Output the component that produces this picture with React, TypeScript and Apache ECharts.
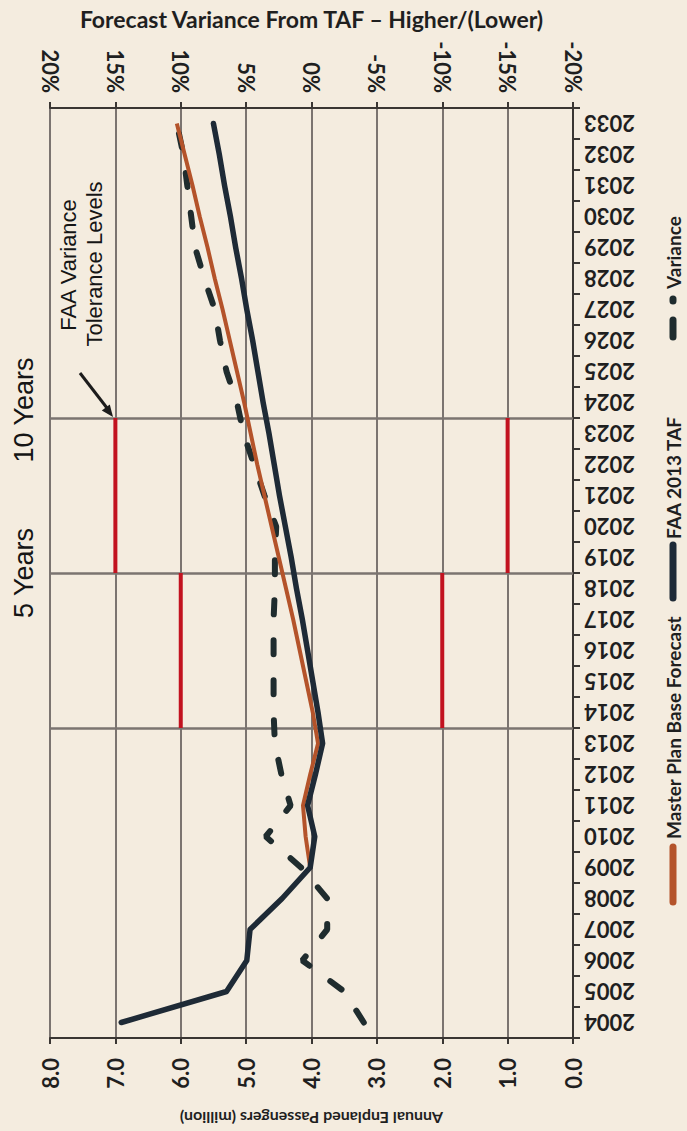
import React, { useEffect, useRef } from "react";
import * as echarts from "echarts";

const years = [
  "2004", "2005", "2006", "2007", "2008", "2009", "2010", "2011", "2012", "2013",
  "2014", "2015", "2016", "2017", "2018", "2019", "2020", "2021", "2022", "2023",
  "2024", "2025", "2026", "2027", "2028", "2029", "2030", "2031", "2032", "2033",
];

// FAA 2013 TAF (million enplaned passengers)
const tafValues = [
  6.91, 5.30, 4.99, 4.94, 4.45, 4.02, 3.95, 4.06, 3.94, 3.83,
  3.90, 3.98, 4.06, 4.14, 4.23, 4.31, 4.40, 4.49, 4.57, 4.65,
  4.74, 4.82, 4.90, 4.99, 5.07, 5.16, 5.24, 5.33, 5.41, 5.50,
];

// Master Plan Base Forecast (starts 2009)
const masterPlanValues = [
  null, null, null, null, null, 4.02, 4.09, 4.13, 4.02, 3.90,
  3.98, 4.08, 4.18, 4.28, 4.39, 4.50, 4.61, 4.72, 4.83, 4.93,
  5.03, 5.14, 5.25, 5.36, 5.48, 5.59, 5.71, 5.82, 5.94, 6.06,
];

// Forecast variance from TAF (%)
const varianceValues = [
  -4.0, -2.5, 0.7, -1.2, -1.2, 0.8, 3.5, 1.6, 2.3, 2.8,
  2.9, 2.9, 2.9, 2.9, 2.8, 2.8, 2.7, 3.6, 4.4, 5.2,
  5.7, 6.5, 7.0, 7.4, 8.2, 8.9, 9.2, 9.5, 9.8, 10.3,
];

// FAA variance tolerance levels (% on variance axis, year boundaries)
const toleranceLevels = [10, -10, 15, -15];
const toleranceFrom = [2013.5, 2013.5, 2018.5, 2018.5];
const toleranceTo = [2018.5, 2018.5, 2023.5, 2023.5];

// Horizon boundary lines
const horizonLines = [2013.5, 2018.5, 2023.5];

const passengerTicks = { min: 0, max: 8, interval: 1 };
const varianceTicks = { min: -20, max: 20, interval: 5 };

const BG = "#f4ecdf";
const GRID = "#7b7470";
const AXIS = "#3a3633";
const TEXT = "#1f1f1f";
const TAF_COLOR = "#1e2a36";
const MP_COLOR = "#b4532a";
const VAR_COLOR = "#1f2c2e";
const RED = "#c2121f";
const LABEL_FONT = "Lato";

export default function App() {
  const ref = useRef<HTMLDivElement>(null);

  useEffect(() => {
    if (!ref.current) return;
    const chart = echarts.init(ref.current, null, { renderer: "svg" });

    const toleranceSeries = toleranceLevels.map((lvl, i) => ({
      type: "line",
      xAxisIndex: 1,
      yAxisIndex: 1,
      data: [
        [lvl, toleranceFrom[i]],
        [lvl, toleranceTo[i]],
      ],
      symbol: "none",
      silent: true,
      z: 3,
      lineStyle: { color: RED, width: 4 },
      markLine:
        i === 0
          ? {
              silent: true,
              symbol: "none",
              label: { show: false },
              lineStyle: { color: GRID, width: 2.5, type: "solid" },
              data: horizonLines.map((v) => ({ yAxis: v })),
              z: 2,
            }
          : undefined,
    }));

    const option: any = {
      animation: false,
      backgroundColor: BG,
      grid: { left: 50, right: 114, top: 108, bottom: 92 },
      xAxis: [
        {
          type: "value",
          position: "bottom",
          inverse: true,
          min: passengerTicks.min,
          max: passengerTicks.max,
          interval: passengerTicks.interval,
          name: "Annual Enplaned Passengers (million)",
          nameLocation: "middle",
          nameRotate: 180,
          nameGap: 72,
          nameTextStyle: {
            fontFamily: LABEL_FONT,
            fontWeight: "bold",
            fontSize: 16,
            color: TEXT,
          },
          axisLine: { show: true, lineStyle: { color: AXIS, width: 2 } },
          axisTick: { show: true, length: 6, lineStyle: { color: AXIS, width: 2 } },
          axisLabel: {
            rotate: 90,
            margin: 20,
            fontFamily: LABEL_FONT,
            fontWeight: "bold",
            fontSize: 22,
            color: TEXT,
            formatter: (v: number) => v.toFixed(1),
          },
          splitLine: { show: true, lineStyle: { color: GRID, width: 2 } },
        },
        {
          type: "value",
          position: "top",
          inverse: true,
          min: varianceTicks.min,
          max: varianceTicks.max,
          interval: varianceTicks.interval,
          name: "Forecast Variance From TAF \u2013 Higher/(Lower)",
          nameLocation: "middle",
          nameGap: 78,
          nameTextStyle: {
            fontFamily: LABEL_FONT,
            fontWeight: "bold",
            fontSize: 23,
            color: TEXT,
          },
          axisLine: { show: true, lineStyle: { color: AXIS, width: 2 } },
          axisTick: { show: true, length: 6, lineStyle: { color: AXIS, width: 2 } },
          axisLabel: {
            rotate: 90,
            margin: 15,
            fontFamily: LABEL_FONT,
            fontWeight: "bold",
            fontSize: 22,
            color: TEXT,
            formatter: (v: number) => `${v}%`,
          },
          splitLine: { show: false },
        },
      ],
      yAxis: [
        {
          type: "category",
          position: "right",
          data: years,
          boundaryGap: true,
          axisLine: { show: true, lineStyle: { color: AXIS, width: 2 } },
          axisTick: { show: true, length: 7, lineStyle: { color: AXIS, width: 2 } },
          axisLabel: {
            rotate: 180,
            margin: 11,
            fontFamily: LABEL_FONT,
            fontWeight: "bold",
            fontSize: 22,
            color: TEXT,
          },
          splitLine: { show: false },
        },
        {
          type: "value",
          position: "right",
          min: 2003.5,
          max: 2033.5,
          show: false,
        },
      ],
      series: [
        ...toleranceSeries,
        {
          name: "Variance",
          type: "line",
          xAxisIndex: 1,
          yAxisIndex: 0,
          data: varianceValues.map((v, i) => [v, years[i]]),
          symbol: "none",
          z: 4,
          lineStyle: { color: VAR_COLOR, width: 6, type: [14, 26], cap: "round" },
        },
        {
          name: "Master Plan Base Forecast",
          type: "line",
          xAxisIndex: 0,
          yAxisIndex: 0,
          data: masterPlanValues.map((v, i) => [v, years[i]]).filter((d) => d[0] !== null),
          symbol: "none",
          z: 5,
          lineStyle: { color: MP_COLOR, width: 4 },
        },
        {
          name: "FAA 2013 TAF",
          type: "line",
          xAxisIndex: 0,
          yAxisIndex: 0,
          data: tafValues.map((v, i) => [v, years[i]]),
          symbol: "none",
          z: 6,
          lineStyle: { color: TAF_COLOR, width: 5.5, cap: "round", join: "round" },
        },
      ],
      graphic: [
        {
          type: "text",
          x: 24,
          y: 573,
          rotation: Math.PI / 2,
          style: {
            text: "5 Years",
            fontFamily: "Liberation Sans",
            fontSize: 27,
            fill: "#151515",
            align: "center",
            verticalAlign: "middle",
          },
        },
        {
          type: "text",
          x: 24,
          y: 410,
          rotation: Math.PI / 2,
          style: {
            text: "10 Years",
            fontFamily: "Liberation Sans",
            fontSize: 27,
            fill: "#151515",
            align: "center",
            verticalAlign: "middle",
          },
        },
        {
          type: "text",
          x: 68,
          y: 265,
          rotation: Math.PI / 2,
          style: {
            text: "FAA Variance",
            fontFamily: "Liberation Sans",
            fontSize: 22,
            fill: "#151515",
            align: "center",
            verticalAlign: "middle",
          },
        },
        {
          type: "text",
          x: 94,
          y: 264,
          rotation: Math.PI / 2,
          style: {
            text: "Tolerance Levels",
            fontFamily: "Liberation Sans",
            fontSize: 22,
            fill: "#151515",
            align: "center",
            verticalAlign: "middle",
          },
        },
        {
          type: "line",
          shape: { x1: 80, y1: 373, x2: 107, y2: 408 },
          style: { stroke: "#1c1c1c", lineWidth: 3 },
        },
        {
          type: "polygon",
          shape: { points: [[113, 417], [101.8, 410.4], [109.8, 404.4]] },
          style: { fill: "#1c1c1c" },
        },
        {
          type: "group",
          x: 673,
          y: 905,
          rotation: Math.PI / 2,
          children: [
            {
              type: "line",
              shape: { x1: 3, y1: 0, x2: 58, y2: 0 },
              style: { stroke: MP_COLOR, lineWidth: 7, lineCap: "round" },
            },
            {
              type: "text",
              x: 66,
              y: 0,
              style: {
                text: "Master Plan Base Forecast",
                fontFamily: LABEL_FONT,
                fontWeight: "bold",
                fontSize: 19,
                fill: TEXT,
                align: "left",
                verticalAlign: "middle",
              },
            },
            {
              type: "line",
              shape: { x1: 307, y1: 0, x2: 360, y2: 0 },
              style: { stroke: TAF_COLOR, lineWidth: 7, lineCap: "round" },
            },
            {
              type: "text",
              x: 366,
              y: 0,
              style: {
                text: "FAA 2013 TAF",
                fontFamily: LABEL_FONT,
                fontWeight: "bold",
                fontSize: 19,
                fill: TEXT,
                align: "left",
                verticalAlign: "middle",
              },
            },
            {
              type: "line",
              shape: { x1: 568, y1: 0, x2: 585, y2: 0 },
              style: { stroke: VAR_COLOR, lineWidth: 7, lineCap: "round" },
            },
            {
              type: "line",
              shape: { x1: 604, y1: 0, x2: 606, y2: 0 },
              style: { stroke: VAR_COLOR, lineWidth: 7, lineCap: "round" },
            },
            {
              type: "text",
              x: 616,
              y: 0,
              style: {
                text: "Variance",
                fontFamily: LABEL_FONT,
                fontWeight: "bold",
                fontSize: 19,
                fill: TEXT,
                align: "left",
                verticalAlign: "middle",
              },
            },
          ],
        },
      ],
    };

    chart.setOption(option);
    return () => chart.dispose();
  }, []);

  return (
    <div
      style={{
        position: "fixed",
        left: 0,
        top: 0,
        width: 687,
        height: 1131,
        background: BG,
      }}
    >
      <div ref={ref} style={{ width: 687, height: 1131 }} />
    </div>
  );
}
